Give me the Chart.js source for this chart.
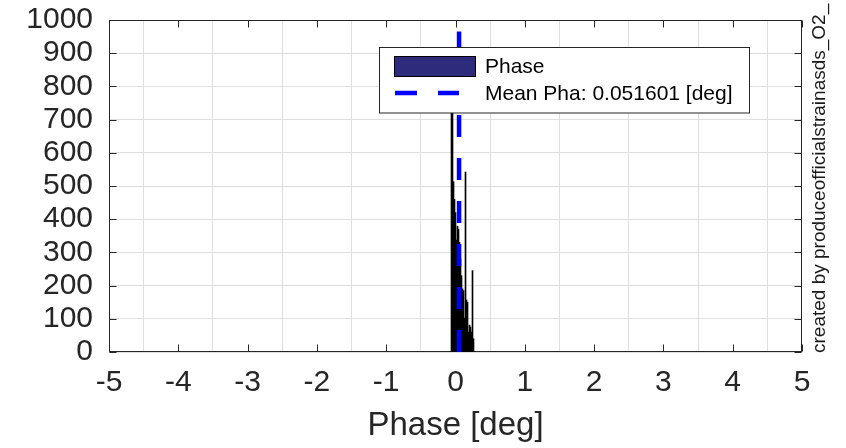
<!DOCTYPE html>
<html>
<head>
<meta charset="utf-8">
<script src="https://cdn.jsdelivr.net/npm/chart.js@4.4.0/dist/chart.umd.min.js"></script>
<style>
    body { margin: 0; background: #fff; }
    canvas { display: block; }
</style>
</head>
<body>
<canvas id="myChart" width="846" height="448"></canvas>
<script>
// -- histogram : bin centres [deg] and counts --
const phaseBins = [-0.0577, -0.0433, -0.0289, -0.0144, 0.0000, 0.0144, 0.0289, 0.0433,
                   0.0577, 0.0722, 0.0866, 0.1010, 0.1154, 0.1299, 0.1443, 0.1587,
                   0.1732, 0.1876, 0.2020, 0.2165, 0.2309, 0.2453, 0.2597];
const phaseCounts = [800, 880, 513, 460, 420, 337, 379, 370,
                     330, 280, 230, 190, 185, 102, 542, 157,
                     150, 60, 81, 75, 60, 245, 40];

// -- mean marker --
const meanPha = 0.051601;
const meanLineCounts = [0, 965];

// -- axes --
const xRange = [-5, 5];
const yRange = [0, 1000];
const xStep = 1;
const yStep = 100;

const sideNote = 'created by produceofficialstrainasds_O2_';

const FONT = "'Liberation Sans', Arial, Helvetica, sans-serif";
const AXIS_COLOR = '#262626';
const GRID_COLOR = '#dfdfdf';
const FACE_COLOR = '#2f2b7c';   // histogram face (hidden by the black edges at this bin width)

// --> box round the axes + inward tick marks (matlab look) <--
const boxPlugin = {
    id: 'box',
    beforeDatasetsDraw(chart) {
        const {ctx, chartArea: a, scales} = chart;
        const L = Math.round(a.left) + 0.5, R = Math.round(a.right) - 0.5;
        const T = Math.round(a.top) + 0.5, B = Math.round(a.bottom) - 0.5;
        ctx.save();
        ctx.strokeStyle = AXIS_COLOR;
        ctx.lineWidth = 1;
        ctx.beginPath();
        for (let t of scales.x.ticks) {
            let px = Math.round(scales.x.getPixelForValue(t.value)) + 0.5;
            ctx.moveTo(px, B); ctx.lineTo(px, B - 7);
            ctx.moveTo(px, T); ctx.lineTo(px, T + 7);
        }
        for (let t of scales.y.ticks) {
            let py = Math.round(scales.y.getPixelForValue(t.value)) + 0.5;
            ctx.moveTo(L, py); ctx.lineTo(L + 7, py);
            ctx.moveTo(R, py); ctx.lineTo(R - 7, py);
        }
        ctx.stroke();
        ctx.strokeRect(L, T, R - L, B - T);
        ctx.restore();
    }
};

// --> legend inside the axes + the vertical side note <--
const legendPlugin = {
    id: 'insideLegend',
    afterDraw(chart) {
        const ctx = chart.ctx;
        const bars = chart.data.datasets[1];
        const mean = chart.data.datasets[0];
        ctx.save();
        ctx.fillStyle = '#fff';
        ctx.strokeStyle = AXIS_COLOR;
        ctx.lineWidth = 1;
        ctx.fillRect(379.5, 47.5, 370, 65.5);
        ctx.strokeRect(379.5, 47.5, 370, 65.5);

        ctx.fillStyle = FACE_COLOR;
        ctx.fillRect(394.5, 56.5, 81, 20);
        ctx.strokeStyle = '#000';
        ctx.strokeRect(394.5, 56.5, 81, 20);

        ctx.strokeStyle = mean.borderColor;
        ctx.lineWidth = mean.borderWidth;
        ctx.setLineDash(mean.borderDash);
        ctx.beginPath();
        ctx.moveTo(395, 93);
        ctx.lineTo(459, 93);
        ctx.stroke();
        ctx.setLineDash([]);

        ctx.fillStyle = '#000';
        ctx.font = '21px ' + FONT;
        ctx.textBaseline = 'middle';
        ctx.fillText(bars.label, 485, 67);
        ctx.fillText(mean.label, 485, 94);

        // side note, reading upwards
        ctx.translate(825, 353);
        ctx.rotate(-Math.PI / 2);
        ctx.font = '19px ' + FONT;
        ctx.textBaseline = 'alphabetic';
        ctx.textAlign = 'left';
        ctx.fillStyle = '#1a1a1a';
        ctx.fillText(sideNote, 0, 0);
        ctx.restore();
    }
};

let chartObj = {
    type: 'bar',
    data: {
        datasets: [{
            type: 'line',
            label: 'Mean Pha: ' + meanPha + ' [deg]',
            data: meanLineCounts.map(v => ({x: meanPha, y: v})),
            borderColor: '#0000ff',
            borderWidth: 4.5,
            borderDash: [22, 21],
            borderCapStyle: 'butt',
            pointRadius: 0,
            order: 0
        },
        {
            label: 'Phase',
            data: phaseBins.map((b, i) => ({x: b, y: phaseCounts[i]})),
            backgroundColor: '#000',
            borderWidth: 0,
            barPercentage: 1,
            categoryPercentage: 1,
            order: 1
        }]
    },
    options: {
        responsive: false,
        animation: false,
        events: [],
        layout: { padding: { left: 0, right: 44, top: 20, bottom: 0 } },
        plugins: { legend: { display: false }, tooltip: { enabled: false } },
        scales: {
            x: {
                type: 'linear',
                min: xRange[0],
                max: xRange[1],
                offset: false,
                grid: { color: GRID_COLOR, drawTicks: false },
                border: { display: false },
                ticks: { stepSize: xStep, padding: 13, color: AXIS_COLOR,
                         font: { family: FONT, size: 30 }, callback: v => String(v) },
                title: { display: true, text: 'Phase [deg]', color: AXIS_COLOR,
                         font: { family: FONT, size: 33 }, padding: { top: 0, bottom: 2 } },
                afterFit: s => { s.height = 96; s.paddingLeft = 0; s.paddingRight = 0; }
            },
            y: {
                min: yRange[0],
                max: yRange[1],
                grid: { color: GRID_COLOR, drawTicks: false },
                border: { display: false },
                ticks: { stepSize: yStep, autoSkip: false, padding: 16, color: AXIS_COLOR,
                         font: { family: FONT, size: 30 }, callback: v => String(v) },
                afterFit: s => { s.width = 109; s.paddingTop = 0; s.paddingBottom = 0; }
            }
        }
    },
    plugins: [boxPlugin, legendPlugin]
};

const ctx = document.getElementById('myChart').getContext('2d');
const myChart = new Chart(ctx, chartObj);
</script>
</body>
</html>
